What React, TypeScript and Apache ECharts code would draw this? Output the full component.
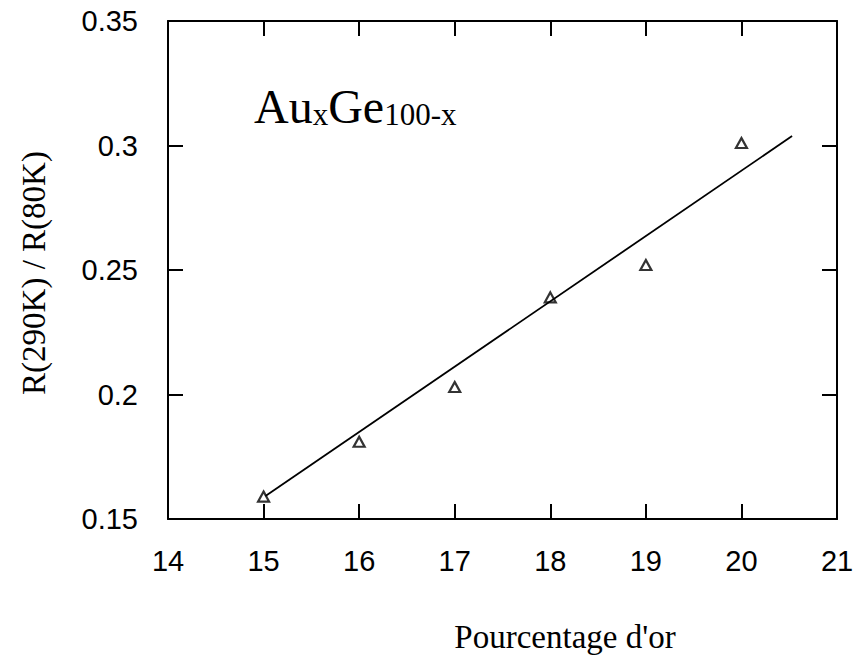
import React, { useEffect, useRef } from "react";
import * as echarts from "echarts";

const goldPct = [15, 16, 17, 18, 19, 20];
const ratio = [0.159, 0.181, 0.203, 0.239, 0.252, 0.301];
const fitX = [15.02, 20.53];
const fitY = [0.1592, 0.3038];
const xTicks = { min: 14, max: 21, interval: 1 };
const yTicks = { min: 0.15, max: 0.35, interval: 0.05 };
const xTitle = "Pourcentage d'or";
const yTitle = "R(290K) / R(80K)";

export default function App() {
  const ref = useRef<HTMLDivElement>(null);
  useEffect(() => {
    document.body.style.margin = "0";
    const chart = echarts.init(ref.current!, null, { renderer: "svg" });
    const axisLine = { show: true, lineStyle: { color: "#000", width: 2 } };
    const axisTick = { show: true, inside: true, length: 15, lineStyle: { color: "#000", width: 2 } };
    const labelFont = { fontFamily: "Liberation Sans, Arial, sans-serif", fontSize: 29, color: "#000" };
    chart.setOption({
      animation: false,
      backgroundColor: "#fff",
      grid: { left: 168, right: 22, top: 21, bottom: 139, show: false },
      xAxis: [
        {
          type: "value",
          ...xTicks,
          position: "bottom",
          axisLine,
          axisTick,
          splitLine: { show: false },
          axisLabel: { ...labelFont, margin: 27 },
        },
        {
          type: "value",
          ...xTicks,
          position: "top",
          axisLine,
          axisTick,
          splitLine: { show: false },
          axisLabel: { show: false },
        },
      ],
      yAxis: [
        {
          type: "value",
          ...yTicks,
          position: "left",
          axisLine,
          axisTick,
          splitLine: { show: false },
          axisLabel: { ...labelFont, margin: 30 },
        },
        {
          type: "value",
          ...yTicks,
          position: "right",
          axisLine,
          axisTick,
          splitLine: { show: false },
          axisLabel: { show: false },
        },
      ],
      series: [
        {
          type: "line",
          data: fitX.map((x, i) => [x, fitY[i]]),
          showSymbol: false,
          symbol: "none",
          lineStyle: { color: "#000", width: 1.8 },
          z: 2,
        },
        {
          type: "scatter",
          data: goldPct.map((x, i) => [x, ratio[i]]),
          symbol: "triangle",
          symbolSize: [11, 10],
          itemStyle: { color: "rgba(255,255,255,0)", borderColor: "#000", borderWidth: 2.2 },
          z: 3,
        },
      ],
      graphic: [
        {
          type: "text",
          x: 254,
          y: 130,
          style: {
            text: "{a|Au}{b|x}{a|Ge}{b|100-x}",
            verticalAlign: "bottom",
            align: "left",
            rich: {
              a: { fontFamily: "Liberation Serif, Times New Roman, serif", fontSize: 48, lineHeight: 48, verticalAlign: "bottom", fill: "#000" },
              b: { fontFamily: "Liberation Serif, Times New Roman, serif", fontSize: 31, lineHeight: 35, verticalAlign: "bottom", fill: "#000" },
            },
          },
        },
        {
          type: "text",
          x: 565,
          y: 637,
          style: {
            text: xTitle,
            fontFamily: "Liberation Serif, Times New Roman, serif",
            fontSize: 33,
            fill: "#000",
            align: "center",
            verticalAlign: "middle",
          },
        },
        {
          type: "text",
          x: 34,
          y: 273,
          rotation: Math.PI / 2,
          style: {
            text: yTitle,
            fontFamily: "Liberation Serif, Times New Roman, serif",
            fontSize: 33,
            fill: "#000",
            align: "center",
            verticalAlign: "middle",
          },
        },
      ],
    });
    return () => chart.dispose();
  }, []);
  return <div ref={ref} style={{ width: 859, height: 658 }} />;
}
